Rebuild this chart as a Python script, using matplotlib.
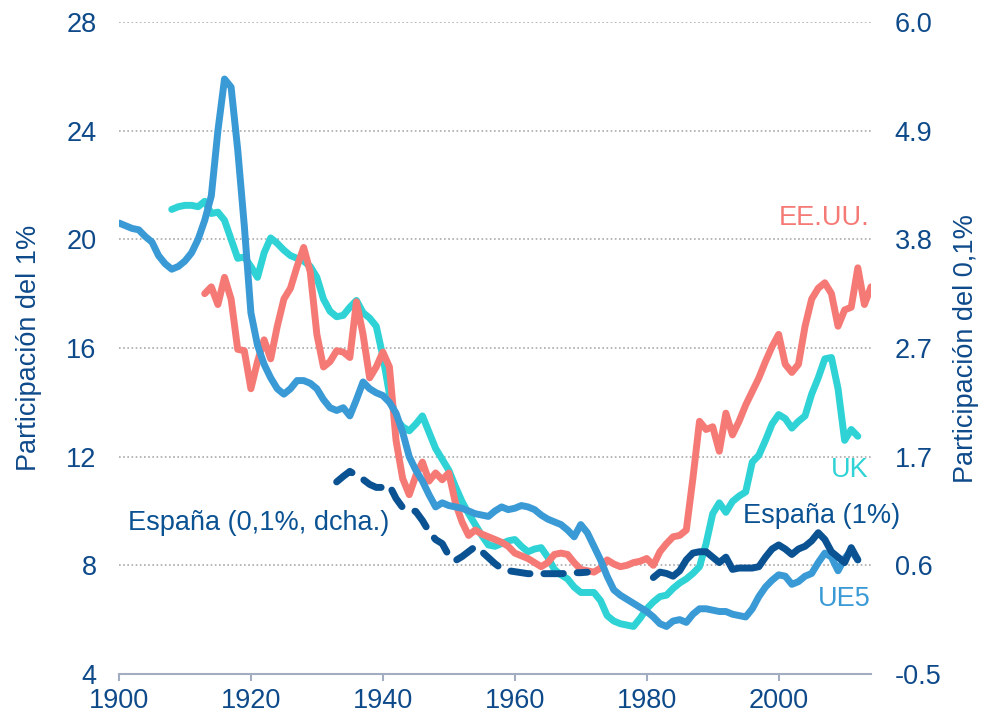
import matplotlib
matplotlib.use("Agg")
import matplotlib.pyplot as plt
import numpy as np

plt.rcParams['font.family'] = ['Liberation Sans', 'DejaVu Sans']

# ---------------- data ----------------
ue5_years = list(range(1900, 2013))
ue5_vals = [20.6, 20.5, 20.4, 20.35, 20.1, 19.9, 19.4, 19.1, 18.9, 19.0,
            19.2, 19.5, 20.0, 20.7, 21.6, 24.0, 25.9, 25.6, 23.3, 20.5,
            17.3, 16.1, 15.4, 14.9, 14.5, 14.3, 14.5, 14.8, 14.8, 14.7,
            14.5, 14.1, 13.8, 13.7, 13.8, 13.5, 14.1, 14.75, 14.5, 14.35,
            14.25, 14.0, 13.6, 12.9, 12.0, 11.5, 11.1, 10.6, 10.15, 10.3,
            10.2, 10.15, 10.1, 10.0, 9.9, 9.85, 9.8, 10.0, 10.15, 10.05,
            10.1, 10.2, 10.15, 10.05, 9.85, 9.7, 9.6, 9.5, 9.3, 9.05,
            9.5, 9.2, 8.7, 8.2, 7.6, 7.1, 6.9, 6.75, 6.6, 6.45,
            6.3, 6.1, 5.85, 5.75, 5.95, 6.0, 5.9, 6.2, 6.4, 6.4,
            6.35, 6.3, 6.3, 6.2, 6.15, 6.1, 6.4, 6.85, 7.2, 7.45,
            7.65, 7.6, 7.3, 7.4, 7.6, 7.7, 8.1, 8.45, 8.3, 7.8,
            8.25, 8.55, 8.2]

uk_years = list(range(1908, 2013))
uk_vals = [21.1, 21.2, 21.25, 21.25, 21.2, 21.4, 20.95, 21.0, 20.7, 20.0,
           19.3, 19.35, 19.0, 18.6, 19.5, 20.05, 19.85, 19.6, 19.4, 19.3,
           19.2, 19.0, 18.6, 17.8, 17.35, 17.15, 17.2, 17.5, 17.75, 17.3,
           17.1, 16.8, 15.7, 14.3, 13.4, 13.1, 12.95, 13.2, 13.5, 12.9,
           12.3, 11.9, 11.5, 10.9, 10.35, 9.9, 9.5, 9.1, 8.75, 8.7,
           8.8, 8.9, 8.95, 8.7, 8.5, 8.6, 8.65, 8.3, 7.85, 7.65,
           7.5, 7.2, 7.0, 7.0, 7.0, 6.7, 6.15, 5.95, 5.85, 5.8,
           5.75, 6.05, 6.4, 6.65, 6.85, 6.9, 7.15, 7.35, 7.5, 7.7,
           7.95, 8.8, 9.9, 10.3, 9.95, 10.35, 10.55, 10.7, 11.8, 12.05,
           12.6, 13.2, 13.55, 13.4, 13.05, 13.3, 13.5, 14.3, 14.9, 15.6,
           15.65, 14.5, 12.6, 13.0, 12.75]

us_years = list(range(1913, 2015))
us_vals = [18.0, 18.25, 17.6, 18.6, 17.8, 15.95, 15.9, 14.5, 15.5, 16.3,
           15.6, 16.8, 17.8, 18.2, 19.0, 19.7, 18.8, 16.5, 15.3, 15.5,
           15.9, 15.85, 15.65, 17.7, 16.5, 14.9, 15.3, 15.85, 15.3, 12.6,
           11.2, 10.6, 11.3, 11.8, 11.1, 11.4, 11.15, 11.4, 10.3, 9.6,
           9.1, 9.3, 9.15, 9.05, 8.95, 8.85, 8.7, 8.45, 8.35, 8.25,
           8.1, 7.95, 8.1, 8.4, 8.45, 8.4, 8.1, 7.85, 7.8, 7.75,
           7.9, 8.2, 8.05, 7.95, 8.0, 8.1, 8.15, 8.25, 8.0, 8.5,
           8.8, 9.05, 9.1, 9.3, 11.2, 13.3, 13.0, 13.1, 12.2, 13.6,
           12.8, 13.3, 13.9, 14.4, 14.9, 15.5, 16.05, 16.5, 15.4, 15.1,
           15.4, 16.8, 17.8, 18.2, 18.4, 18.0, 16.8, 17.4, 17.5, 18.95,
           17.6, 18.25]

es1_years = list(range(1981, 2013))
es1_vals = [7.55, 7.75, 7.7, 7.6, 7.8, 8.2, 8.45, 8.5, 8.5, 8.3,
            8.1, 8.3, 7.85, 7.9, 7.9, 7.9, 7.95, 8.3, 8.6, 8.75,
            8.6, 8.4, 8.6, 8.7, 8.9, 9.2, 8.95, 8.5, 8.3, 8.1,
            8.65, 8.2]

es01_years = list(range(1933, 1972))
es01_vals = [1.415, 1.47, 1.52, 1.48, 1.44, 1.39, 1.36, 1.36, 1.38, 1.25,
             1.16, 1.14, 1.12, 1.03, 0.92, 0.84, 0.80, 0.68, 0.63, 0.67,
             0.72, 0.77, 0.72, 0.66, 0.60, 0.55, 0.53, 0.52, 0.51, 0.50,
             0.50, 0.50, 0.50, 0.50, 0.50, 0.505, 0.51, 0.51, 0.515]

left_ticks = [4, 8, 12, 16, 20, 24, 28]
right_tick_labels = ["-0.5", "0.6", "1.7", "2.7", "3.8", "4.9", "6.0"]
x_ticks = [1900, 1920, 1940, 1960, 1980, 2000]

# ---------------- style ----------------
C_UE5 = "#3A9AD6"
C_UK = "#2FD3D5"
C_US = "#F57A76"
C_ES = "#0B5293"
C_TXT = "#0E4A8A"
LW = 5.0
FS = 19.5

fig = plt.figure(figsize=(9.88, 7.18), dpi=100)
ax = fig.add_axes([0.1204, 0.0613, 0.7612, 0.9081])
ax2 = ax.twinx()

ax.set_xlim(1900, 2014)
ax.set_ylim(4, 28)
ax2.set_ylim(-0.5, 6.0)

kw = dict(lw=LW, solid_capstyle='round', solid_joinstyle='round')
ax.plot(uk_years, uk_vals, color=C_UK, zorder=3, **kw)
ax.plot(us_years, us_vals, color=C_US, zorder=4, **kw)
ax.plot(ue5_years, ue5_vals, color=C_UE5, zorder=5, **kw)
ax.plot(es1_years, es1_vals, color=C_ES, zorder=6, **kw)
ax2.plot(es01_years, es01_vals, color=C_ES, lw=LW, linestyle=(0, (2.8, 2.0)),
         dash_capstyle='round', dash_joinstyle='round', zorder=6)

# grid
for v in left_ticks[1:]:
    ax.axhline(v, color="#AAAAAA", lw=1.2, linestyle=(0, (1, 1.5)), zorder=1)

for s in ["left", "right", "top"]:
    ax.spines[s].set_visible(False)
    ax2.spines[s].set_visible(False)
ax2.spines["bottom"].set_visible(False)
ax.spines["bottom"].set_color("#A3ADC2")
ax.spines["bottom"].set_linewidth(1.5)

ax.set_xticks(x_ticks)
ax.set_xticklabels([str(x) for x in x_ticks])
ax.tick_params(axis='x', direction='out', length=5, width=1.5, color="#A3ADC2",
               labelsize=FS, labelcolor=C_TXT, pad=5)
ax.set_yticks(left_ticks)
ax.tick_params(axis='y', length=0, labelsize=FS, labelcolor=C_TXT, pad=16)
ax2.set_yticks(np.linspace(-0.5, 6.0, len(right_tick_labels)))
ax2.set_yticklabels(right_tick_labels)
ax2.tick_params(axis='y', length=0, labelsize=FS, labelcolor=C_TXT, pad=17)

fig.text(0.029, 0.515, "Participación del 1%", rotation=90, ha='center', va='center',
         fontsize=FS, color=C_TXT)
fig.text(0.978, 0.515, "Participación del 0,1%", rotation=90, ha='center', va='center',
         fontsize=FS, color=C_TXT)

ax.text(2006.9, 20.8, "EE.UU.", color=C_US, fontsize=FS, ha='center', va='center')
ax.text(2010.8, 11.5, "UK", color=C_UK, fontsize=FS, ha='center', va='center')
ax.text(2006.5, 9.8, "España (1%)", color=C_ES, fontsize=FS, ha='center', va='center')
ax.text(2010.0, 6.75, "UE5", color=C_UE5, fontsize=FS, ha='center', va='center')
ax.text(1921.1, 9.55, "España (0,1%, dcha.)", color=C_ES, fontsize=FS, ha='center', va='center')

fig.savefig("out.png", dpi=100)
